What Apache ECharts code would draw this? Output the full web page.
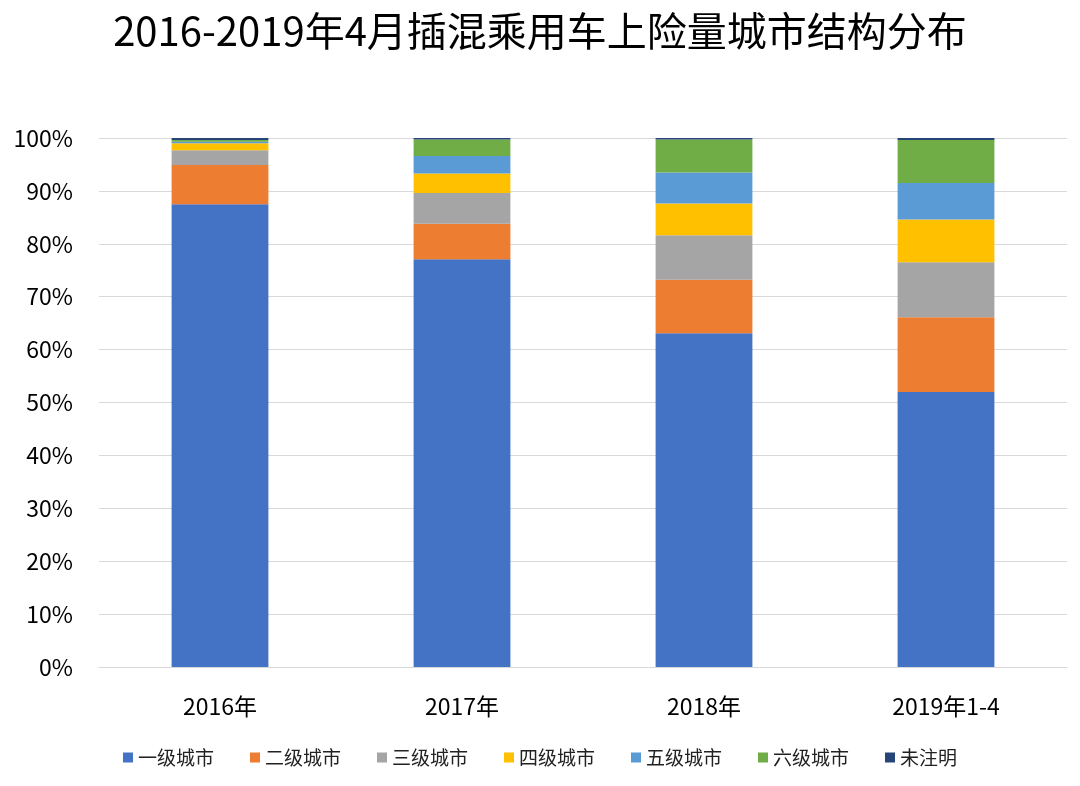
<!DOCTYPE html>
<html><head><meta charset="utf-8">
<script src="https://cdn.jsdelivr.net/npm/echarts@6/dist/echarts.min.js"></script>
<style>html,body{margin:0;padding:0;background:#fff}#c{width:1080px;height:786px}</style>
</head><body><div id="c"></div>
<script>
const categories = ['2016年', '2017年', '2018年', '2019年1-4'];
const seriesNames = ['一级城市', '二级城市', '三级城市', '四级城市', '五级城市', '六级城市', '未注明'];
const tier1 = [87.5, 77.1, 63.1, 52.0];
const tier2 = [7.4, 6.7, 10.1, 14.1];
const tier3 = [2.8, 5.8, 8.4, 10.4];
const tier4 = [1.3, 3.7, 6.0, 8.1];
const tier5 = [0.3, 3.3, 5.9, 6.9];
const tier6 = [0.3, 3.1, 6.2, 8.1];
const unknown = [0.4, 0.3, 0.3, 0.4];
const yTicks = [0, 10, 20, 30, 40, 50, 60, 70, 80, 90, 100];
const colors = ['#4472C4', '#ED7D31', '#A5A5A5', '#FFC000', '#5B9BD5', '#70AD47', '#264478'];
const values = [tier1, tier2, tier3, tier4, tier5, tier6, unknown];
const font = '"Noto Sans CJK SC", "Noto Sans", sans-serif';

const chart = echarts.init(document.getElementById('c'));
chart.setOption({
  animation: false,
  color: colors,
  title: {
    text: '2016-2019年4月插混乘用车上险量城市结构分布',
    left: 'center', top: 6,
    textStyle: { fontSize: 40, fontWeight: 'normal', color: '#000', fontFamily: font }
  },
  legend: {
    bottom: 14, left: 'center',
    itemWidth: 10, itemHeight: 10, itemGap: 36,
    icon: 'rect',
    textStyle: { fontSize: 19, color: '#222', fontFamily: font },
    data: seriesNames
  },
  grid: { left: 99, right: 13, top: 138, bottom: 119 },
  xAxis: {
    type: 'category', data: categories,
    axisLine: { lineStyle: { color: '#d9d9d9' } },
    axisTick: { show: false },
    axisLabel: { fontSize: 23, color: '#000', margin: 28, fontFamily: font }
  },
  yAxis: {
    type: 'value', min: 0, max: 100, interval: 10,
    axisLine: { show: false }, axisTick: { show: false },
    splitLine: { lineStyle: { color: '#d9d9d9', width: 1 } },
    axisLabel: { fontSize: 23, color: '#000', margin: 26, formatter: v => v + '%', fontFamily: font }
  },
  series: seriesNames.map((n, i) => ({
    name: n, type: 'bar', stack: 'total', barWidth: '40%',
    data: values[i]
  }))
});
</script></body></html>
